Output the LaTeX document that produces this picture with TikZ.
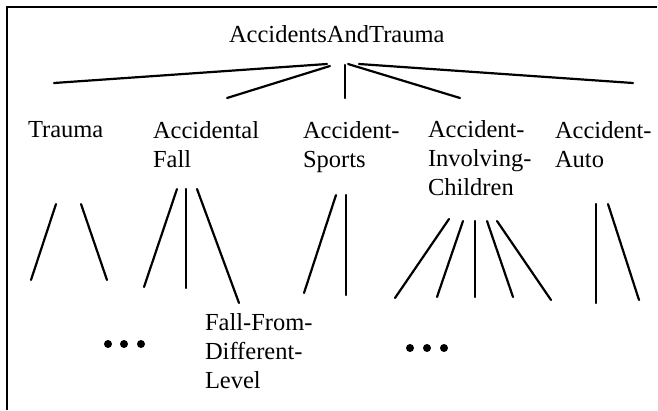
\documentclass[tikz,border=0pt]{standalone}
\usepackage{fontspec}
\setmainfont{Liberation Serif}
\begin{document}
\begin{tikzpicture}[x=1pt,y=-1pt,
  lbl/.style={inner sep=0pt, outer sep=0pt, anchor=base west, align=left, font=\fontsize{24.5}{29}\selectfont},
  edge/.style={line width=2.2pt, line cap=round},
  frame/.style={line width=2.4pt},
  dot/.style={circle, fill=black, inner sep=0pt, minimum size=8pt}]
\useasboundingbox (0,0) rectangle (658,410);
% frame
\coordinate (fl) at (7,410);
\coordinate (fc) at (7,7);
\coordinate (fr) at (657,7);
\draw[frame] (fl) -- (fc) -- (fr);
% labels (anchor = baseline of the last line)
\node[lbl] (root) at (229,42) {AccidentsAndTrauma};
\node[lbl] (trauma) at (28,137) {Trauma};
\node[lbl] (fall) at (153,167) {Accidental\\Fall};
\node[lbl] (sports) at (303,167) {Accident-\\Sports};
\node[lbl] (child) at (428,195) {Accident-\\Involving-\\Children};
\node[lbl] (auto) at (555,167) {Accident-\\Auto};
\node[lbl] (ffdl) at (205,388) {Fall-From-\\Different-\\Level};
% dots
\node[dot] (d1) at (108,344) {};
\node[dot] (d2) at (124,344) {};
\node[dot] (d3) at (141,344) {};
\node[dot] (e1) at (410,348) {};
\node[dot] (e2) at (427,348) {};
\node[dot] (e3) at (444,348) {};
% root edges
\coordinate (r1a) at (327,64); \coordinate (r1b) at (54,83);
\coordinate (r2a) at (330,66); \coordinate (r2b) at (227,98);
\coordinate (r3a) at (345,65); \coordinate (r3b) at (345,98);
\coordinate (r4a) at (348,64); \coordinate (r4b) at (460,98);
\coordinate (r5a) at (359,64); \coordinate (r5b) at (633,83);
\foreach \i in {1,...,5} \draw[edge] (r\i a) -- (r\i b);
% trauma
\coordinate (t1a) at (56,204); \coordinate (t1b) at (31,280);
\coordinate (t2a) at (81,204); \coordinate (t2b) at (107,280);
% fall
\coordinate (f1a) at (177,189); \coordinate (f1b) at (144,287);
\coordinate (f2a) at (186,189); \coordinate (f2b) at (186,288);
\coordinate (f3a) at (197,189); \coordinate (f3b) at (239,303);
% sports
\coordinate (s1a) at (336,195); \coordinate (s1b) at (304,293);
\coordinate (s2a) at (346,195); \coordinate (s2b) at (346,295);
% children
\coordinate (c1a) at (449,219); \coordinate (c1b) at (395,298);
\coordinate (c2a) at (463,221); \coordinate (c2b) at (437,297);
\coordinate (c3a) at (475,221); \coordinate (c3b) at (475,297);
\coordinate (c4a) at (487,221); \coordinate (c4b) at (513,297);
\coordinate (c5a) at (497,221); \coordinate (c5b) at (551,300);
% auto
\coordinate (a1a) at (596,204); \coordinate (a1b) at (596,303);
\coordinate (a2a) at (608,204); \coordinate (a2b) at (639,300);
\foreach \e in {t1,t2,f1,f2,f3,s1,s2,c1,c2,c3,c4,c5,a1,a2} \draw[edge] (\e a) -- (\e b);
\end{tikzpicture}
\end{document}
